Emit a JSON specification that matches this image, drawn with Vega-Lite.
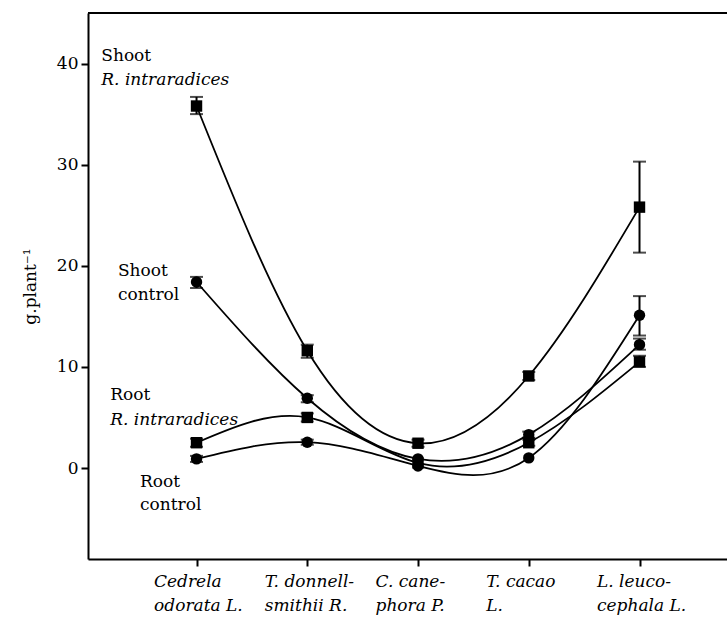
{
  "$schema": "https://vega.github.io/schema/vega-lite/v6.json",
  "width": 639,
  "height": 546,
  "autosize": {"type": "none"},
  "padding": {"left": 88, "top": 13, "right": 0, "bottom": 63},
  "background": "white",
  "config": {
    "view": {"stroke": null},
    "font": "DejaVu Serif",
    "text": {"font": "DejaVu Serif"},
    "axis": {"grid": false, "domainColor": "black", "domainWidth": 2, "tickColor": "black", "tickWidth": 2, "tickSize": 7, "labelColor": "black", "titleColor": "black", "labelFont": "DejaVu Serif", "titleFont": "DejaVu Serif"}
  },
  "datasets": {
    "pts": [
      {"series": "Shoot R. intraradices", "marker": "square", "pos": 1, "val": 35.8, "lo": 35.0, "hi": 36.7},
      {"series": "Shoot R. intraradices", "marker": "square", "pos": 2, "val": 11.6, "lo": 10.9, "hi": 12.2},
      {"series": "Shoot R. intraradices", "marker": "square", "pos": 3, "val": 2.45, "lo": 2.1, "hi": 2.8},
      {"series": "Shoot R. intraradices", "marker": "square", "pos": 4, "val": 9.1, "lo": 8.7, "hi": 9.5},
      {"series": "Shoot R. intraradices", "marker": "square", "pos": 5, "val": 25.8, "lo": 21.3, "hi": 30.3},
      {"series": "Shoot control", "marker": "circle", "pos": 1, "val": 18.4, "lo": 17.8, "hi": 18.9},
      {"series": "Shoot control", "marker": "circle", "pos": 2, "val": 6.9, "lo": 6.5, "hi": 7.2},
      {"series": "Shoot control", "marker": "circle", "pos": 3, "val": 0.9, "lo": null, "hi": null},
      {"series": "Shoot control", "marker": "circle", "pos": 4, "val": 3.3, "lo": 3.0, "hi": 3.6},
      {"series": "Shoot control", "marker": "circle", "pos": 5, "val": 12.2, "lo": 11.7, "hi": 12.8},
      {"series": "Root R. intraradices", "marker": "square", "pos": 1, "val": 2.5, "lo": 2.1, "hi": 2.9},
      {"series": "Root R. intraradices", "marker": "square", "pos": 2, "val": 5.0, "lo": 4.6, "hi": 5.4},
      {"series": "Root R. intraradices", "marker": "square", "pos": 3, "val": 0.5, "lo": null, "hi": null},
      {"series": "Root R. intraradices", "marker": "square", "pos": 4, "val": 2.5, "lo": 2.2, "hi": 2.8},
      {"series": "Root R. intraradices", "marker": "square", "pos": 5, "val": 10.5, "lo": 10.0, "hi": 11.1},
      {"series": "Root control", "marker": "circle", "pos": 1, "val": 0.9, "lo": 0.6, "hi": 1.2},
      {"series": "Root control", "marker": "circle", "pos": 2, "val": 2.55, "lo": 2.3, "hi": 2.8},
      {"series": "Root control", "marker": "circle", "pos": 3, "val": 0.2, "lo": null, "hi": null},
      {"series": "Root control", "marker": "circle", "pos": 4, "val": 1.0, "lo": null, "hi": null},
      {"series": "Root control", "marker": "circle", "pos": 5, "val": 15.1, "lo": 13.1, "hi": 17.0}
    ],
    "notes": [
      {"pos": 0.14, "val": 40.3, "label": "Shoot", "style": "normal"},
      {"pos": 0.14, "val": 37.9, "label": "R. intraradices", "style": "italic"},
      {"pos": 0.29, "val": 19.0, "label": "Shoot", "style": "normal"},
      {"pos": 0.29, "val": 16.6, "label": "control", "style": "normal"},
      {"pos": 0.22, "val": 6.7, "label": "Root", "style": "normal"},
      {"pos": 0.22, "val": 4.3, "label": "R. intraradices", "style": "italic"},
      {"pos": 0.49, "val": -1.9, "label": "Root", "style": "normal"},
      {"pos": 0.49, "val": -4.2, "label": "control", "style": "normal"}
    ]
  },
  "encoding": {
    "x": {
      "field": "pos", "type": "quantitative",
      "scale": {"domain": [0.02, 5.79], "nice": false, "zero": false},
      "axis": {
        "title": null, "values": [1, 2, 3, 4, 5],
        "labelExpr": "[['Cedrela','odorata L.'],['T. donnell-','smithii R.'],['C. cane-','phora P.'],['T. cacao','L.'],['L. leuco-','cephala L.']][datum.value-1]",
        "labelFontSize": 17, "labelFontStyle": "italic", "labelAlign": "left", "labelOffset": -43,
        "labelBaseline": "top", "labelPadding": 7, "labelLineHeight": 24, "labelFlush": false, "labelOverlap": false
      }
    },
    "y": {
      "field": "val", "type": "quantitative",
      "scale": {"domain": [-9, 45], "nice": false, "zero": false},
      "axis": {
        "title": "g.plant⁻¹", "values": [0, 10, 20, 30, 40],
        "labelFontSize": 17, "labelPadding": 3, "titleFontSize": 17, "titleFontWeight": "normal", "titlePadding": 17
      }
    }
  },
  "layer": [
    {
      "data": {"name": "pts"},
      "mark": {"type": "rule", "color": "black", "strokeWidth": 2},
      "encoding": {"y": {"datum": 45, "type": "quantitative", "title": "g.plant⁻¹"}, "x": null}
    },
    {
      "data": {"name": "pts"},
      "mark": {"type": "line", "interpolate": "natural", "color": "black", "strokeWidth": 1.8},
      "encoding": {"detail": {"field": "series"}}
    },
    {
      "data": {"name": "pts"},
      "transform": [{"filter": "datum.lo != null"}],
      "mark": {"type": "rule", "color": "black", "strokeWidth": 2},
      "encoding": {"y": {"field": "lo", "type": "quantitative", "title": "g.plant⁻¹"}, "y2": {"field": "hi"}}
    },
    {
      "data": {"name": "pts"},
      "transform": [{"filter": "datum.lo != null"}],
      "mark": {"type": "tick", "orient": "horizontal", "color": "black", "size": 13, "thickness": 2},
      "encoding": {"y": {"field": "lo", "type": "quantitative", "title": "g.plant⁻¹"}}
    },
    {
      "data": {"name": "pts"},
      "transform": [{"filter": "datum.lo != null"}],
      "mark": {"type": "tick", "orient": "horizontal", "color": "black", "size": 13, "thickness": 2},
      "encoding": {"y": {"field": "hi", "type": "quantitative", "title": "g.plant⁻¹"}}
    },
    {
      "data": {"name": "pts"},
      "mark": {"type": "point", "filled": true, "color": "black", "opacity": 1, "size": 130},
      "encoding": {"shape": {"field": "marker", "type": "nominal", "scale": null, "legend": null}}
    },
    {
      "data": {"name": "notes"},
      "transform": [{"filter": "datum.style == 'normal'"}],
      "mark": {"type": "text", "align": "left", "baseline": "alphabetic", "font": "DejaVu Serif", "fontSize": 17, "color": "black"},
      "encoding": {"text": {"field": "label"}}
    },
    {
      "data": {"name": "notes"},
      "transform": [{"filter": "datum.style == 'italic'"}],
      "mark": {"type": "text", "align": "left", "baseline": "alphabetic", "font": "DejaVu Serif", "fontSize": 17, "fontStyle": "italic", "color": "black"},
      "encoding": {"text": {"field": "label"}}
    }
  ]
}
